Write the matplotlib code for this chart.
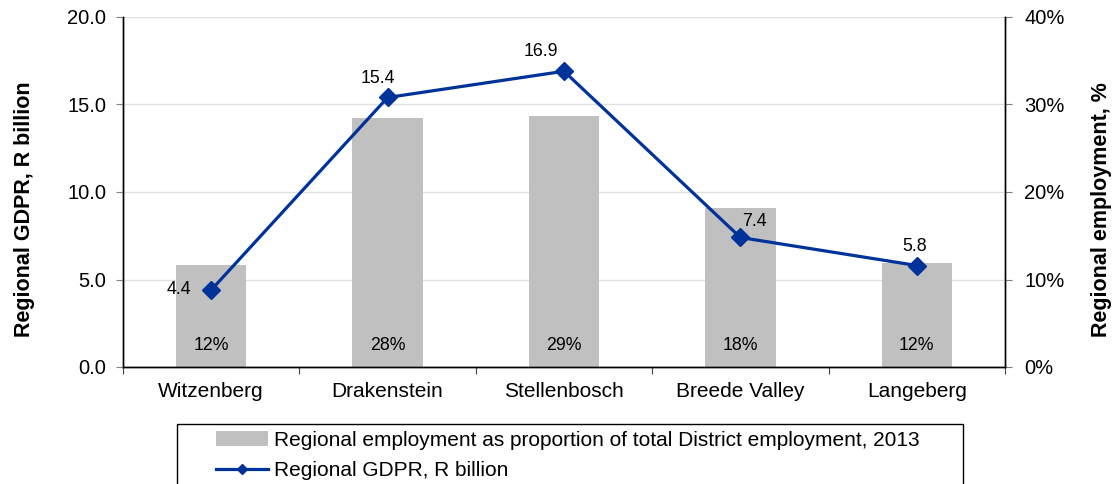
#!/usr/bin/env python3
"""Regional GDPR vs regional employment share, Cape Winelands municipalities."""

import matplotlib
matplotlib.use("Agg")
import matplotlib.pyplot as plt
from matplotlib.lines import Line2D
from matplotlib.patches import Rectangle
from matplotlib.ticker import FuncFormatter, MultipleLocator

plt.rcParams["font.family"] = ["Liberation Sans", "DejaVu Sans"]

municipalities = ["Witzenberg", "Drakenstein", "Stellenbosch", "Breede Valley", "Langeberg"]
employment_pct = [11.7, 28.4, 28.7, 18.2, 11.9]
employment_labels = ["12%", "28%", "29%", "18%", "12%"]
gdpr_billion = [4.4, 15.4, 16.9, 7.4, 5.8]

bar_label = "Regional employment as proportion of total District employment, 2013"
line_label = "Regional GDPR, R billion"

# label offsets (points) for the GDPR data labels
label_offsets = [(-23, 0), (-7, 14), (-17, 14), (10, 11.5), (-1.5, 14)]

BAR_COLOR = "#c0c0c0"
LINE_COLOR = "#003399"
FS_TICK = 14.5
FS_XTICK = 15
FS_DATA = 12.8
FS_LEG = 15
FS_AXLAB = 15.5

fig = plt.figure(figsize=(11.18, 4.84), dpi=100)
ax = fig.add_axes([123 / 1118, 1 - 367 / 484, 882 / 1118, 350 / 484])
ax2 = ax.twinx()

x = list(range(len(municipalities)))

# bars on the right (percent) axis
bars = ax2.bar(x, employment_pct, width=0.4, color=BAR_COLOR, label=bar_label, zorder=2)
for xi, lab in zip(x, employment_labels):
    ax2.text(xi, 2.4, lab, ha="center", va="center", fontsize=FS_DATA, zorder=3)

# line on the left axis, drawn above the bars
ax.plot(x, gdpr_billion, color=LINE_COLOR, lw=2.3, marker="D", ms=9, zorder=4)
for xi, v, (dx, dy) in zip(x, gdpr_billion, label_offsets):
    ax.annotate(f"{v:.1f}", (xi, v), xytext=(dx, dy), textcoords="offset points",
                ha="center", va="center", fontsize=FS_DATA)

ax.set_zorder(ax2.get_zorder() + 1)
ax.patch.set_visible(False)

ax.set_xlim(-0.5, len(municipalities) - 0.5)
ax.set_ylim(0, 20)
ax2.set_ylim(0, 40)
ax.yaxis.set_major_locator(MultipleLocator(5))
ax2.yaxis.set_major_locator(MultipleLocator(10))
ax.yaxis.set_major_formatter(FuncFormatter(lambda v, p: f"{v:.1f}"))
ax2.yaxis.set_major_formatter(FuncFormatter(lambda v, p: f"{v:.0f}%"))

ax.set_xticks(x)
ax.set_xticklabels(municipalities, fontsize=FS_XTICK)
ax.set_xticks([i - 0.5 for i in range(len(municipalities) + 1)], minor=True)
ax.tick_params(axis="x", which="major", length=0, pad=11)
ax.tick_params(axis="x", which="minor", length=5, color="#404040", width=0.8)
ax.tick_params(axis="y", labelsize=FS_TICK, length=5, color="#808080", width=0.8, pad=7)
ax2.tick_params(axis="y", labelsize=FS_TICK, length=5, color="#808080", width=0.8, pad=9)

ax2.grid(axis="y", color="#e0e0e0", lw=1)
ax2.set_axisbelow(True)

for a in (ax, ax2):
    a.spines["top"].set_visible(False)
    for s in ("left", "right", "bottom"):
        a.spines[s].set_color("black")
        a.spines[s].set_linewidth(1)

ax.set_ylabel("Regional GDPR, R billion", fontsize=FS_AXLAB, fontweight="bold")
ax.yaxis.set_label_coords(-0.100, 0.451)
ax2.set_ylabel("Regional employment, %", fontsize=FS_AXLAB, fontweight="bold")
ax2.yaxis.set_label_coords(1.097, 0.451)

# legend box (cut off at the bottom of the figure, as in the source)
fig.patches.append(Rectangle((177 / 1118, -0.05), (963 - 177) / 1118, 0.05 + (484 - 424) / 484,
                             transform=fig.transFigure, fill=False, edgecolor="black", lw=1))
line_handle = Line2D([], [], color=LINE_COLOR, lw=2.3, marker="D", ms=5.5)
fig.legend([bars, line_handle], [bar_label, line_label], loc="upper left",
           bbox_to_anchor=(216 / 1118, 1 - 431 / 484), frameon=False, borderpad=0,
           borderaxespad=0, fontsize=FS_LEG, handlelength=2.5, handletextpad=0.3,
           labelspacing=0.52)

plt.savefig("out.png", dpi=100)
